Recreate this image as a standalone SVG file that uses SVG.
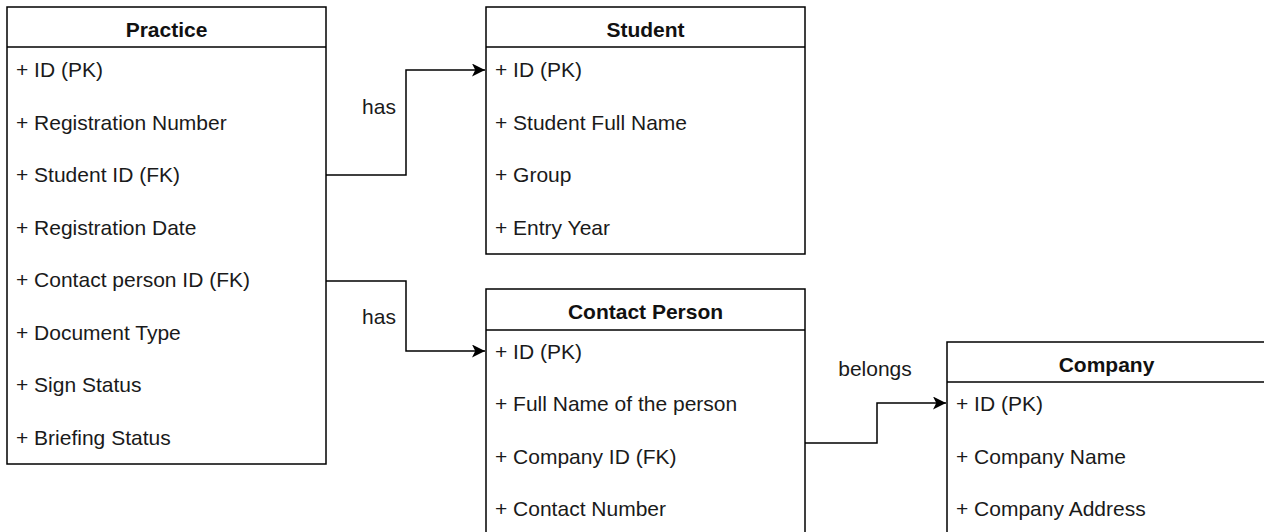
<svg xmlns="http://www.w3.org/2000/svg" width="1264" height="532" viewBox="0 0 1264 532">
  <style>
    .box { fill: #ffffff; stroke: #000000; stroke-width: 1.5; }
    .sep { stroke: #000000; stroke-width: 1.5; }
    .title { font-family: "Liberation Sans", Arial, sans-serif; font-size: 21px; font-weight: bold; fill: #111111; text-anchor: middle; }
    .row { font-family: "Liberation Sans", Arial, sans-serif; font-size: 21px; fill: #1a1a1a; }
    .lbl { font-family: "Liberation Sans", Arial, sans-serif; font-size: 21px; fill: #1a1a1a; text-anchor: middle; }
    .edge { fill: none; stroke: #000000; stroke-width: 1.5; }
  </style>
  <defs>
    <marker id="arrow" viewBox="0 0 12 12" refX="12" refY="6" markerWidth="13" markerHeight="13" markerUnits="userSpaceOnUse" orient="auto">
      <path d="M0,0 L12,6 L0,12 L3,6 Z" fill="#000000"/>
    </marker>
  </defs>
  <rect width="1264" height="532" fill="#ffffff"/>

  <g id="connectors">
    <path class="edge" d="M326,175 H406 V70 H485" marker-end="url(#arrow)"/>
    <path class="edge" d="M326,281 H406 V351 H485" marker-end="url(#arrow)"/>
    <path class="edge" d="M805,443 H877 V403 H946" marker-end="url(#arrow)"/>
    <text class="lbl" x="379" y="114">has</text>
    <text class="lbl" x="379" y="324">has</text>
    <text class="lbl" x="875" y="376">belongs</text>
  </g>

  <g id="practice">
    <rect class="box" x="7" y="7" width="319" height="457"/>
    <line class="sep" x1="7" y1="47" x2="326" y2="47"/>
    <text class="title" x="166.5" y="37">Practice</text>
    <text class="row" x="16" y="77">+ ID (PK)</text>
    <text class="row" x="16" y="129.5">+ Registration Number</text>
    <text class="row" x="16" y="182">+ Student ID (FK)</text>
    <text class="row" x="16" y="234.5">+ Registration Date</text>
    <text class="row" x="16" y="287">+ Contact person ID (FK)</text>
    <text class="row" x="16" y="339.5">+ Document Type</text>
    <text class="row" x="16" y="392">+ Sign Status</text>
    <text class="row" x="16" y="444.5">+ Briefing Status</text>
  </g>

  <g id="student">
    <rect class="box" x="486" y="7" width="319" height="247"/>
    <line class="sep" x1="486" y1="47" x2="805" y2="47"/>
    <text class="title" x="645.5" y="37">Student</text>
    <text class="row" x="495" y="77">+ ID (PK)</text>
    <text class="row" x="495" y="129.5">+ Student Full Name</text>
    <text class="row" x="495" y="182">+ Group</text>
    <text class="row" x="495" y="234.5">+ Entry Year</text>
  </g>

  <g id="contact-person">
    <rect class="box" x="486" y="289" width="319" height="260"/>
    <line class="sep" x1="486" y1="330" x2="805" y2="330"/>
    <text class="title" x="645.5" y="319">Contact Person</text>
    <text class="row" x="495" y="358.5">+ ID (PK)</text>
    <text class="row" x="495" y="411">+ Full Name of the person</text>
    <text class="row" x="495" y="463.5">+ Company ID (FK)</text>
    <text class="row" x="495" y="516">+ Contact Number</text>
  </g>

  <g id="company">
    <rect class="box" x="947" y="342" width="319" height="210"/>
    <line class="sep" x1="947" y1="382" x2="1266" y2="382"/>
    <text class="title" x="1106.5" y="372">Company</text>
    <text class="row" x="956" y="411">+ ID (PK)</text>
    <text class="row" x="956" y="463.5">+ Company Name</text>
    <text class="row" x="956" y="516">+ Company Address</text>
  </g>
</svg>
